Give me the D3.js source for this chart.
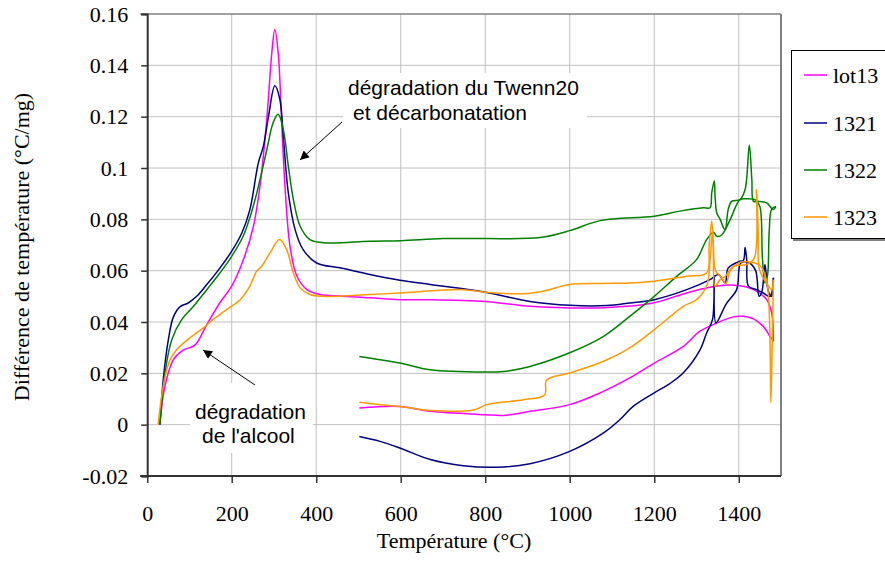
<!DOCTYPE html>
<html><head><meta charset="utf-8">
<script src="https://cdn.jsdelivr.net/npm/d3@7"></script>
<style>body{margin:0;background:#fff;} svg{display:block;}</style>
</head><body>
<svg id="chart" width="885" height="563"></svg>
<script>
// ---------- DATA ----------
const seriesNames = ["lot13", "1321", "1322", "1323"];
const seriesColors = ["#FF00FF", "#000080", "#008000", "#FF9900"];
const xTicks = [0, 200, 400, 600, 800, 1000, 1200, 1400];
const yTicks = [-0.02, 0, 0.02, 0.04, 0.06, 0.08, 0.1, 0.12, 0.14, 0.16];
const xTitle = "Température (°C)";
const yTitle = "Différence de température (°C/mg)";

// [température, différence] — montée
const lot13Heat = [[30,0],[42,0.015],[62,0.0253],[85,0.029],[113,0.031],[141,0.039],[172,0.0475],[200,0.054],[227,0.064],[251,0.077],[267,0.093],[283,0.119],[295,0.145],[302,0.154],[310,0.145],[318,0.119],[326,0.093],[338,0.0695],[354,0.058],[378,0.0526],[409,0.0507],[432,0.0503],[527,0.0494],[598,0.0487],[670,0.0487],[800,0.048],[906,0.0461],[1000,0.0455],[1072,0.0455],[1142,0.0462],[1200,0.0475],[1277,0.0513],[1348,0.054],[1399,0.0542],[1435,0.0526],[1466,0.0487],[1478,0.0435],[1482,0.0325]];
// descente
const lot13Cool = [[1482,0.0325],[1474,0.0344],[1458,0.0383],[1435,0.0412],[1411,0.0422],[1387,0.042],[1348,0.0396],[1308,0.0364],[1269,0.0305],[1200,0.024],[1142,0.0182],[1072,0.0124],[1000,0.0078],[906,0.0052],[843,0.0036],[800,0.0039],[670,0.0052],[598,0.0071],[502,0.0065]];

const s1321Heat = [[30,0],[38,0.0175],[50,0.033],[62,0.042],[78,0.046],[97,0.0474],[117,0.05],[141,0.0546],[172,0.061],[200,0.0676],[224,0.0747],[243,0.0838],[263,0.102],[275,0.1085],[287,0.12],[302,0.132],[314,0.1267],[322,0.1124],[334,0.0903],[350,0.076],[369,0.0682],[401,0.063],[456,0.0611],[527,0.0585],[598,0.0563],[670,0.0546],[800,0.0516],[906,0.048],[1000,0.0465],[1088,0.0464],[1142,0.0474],[1200,0.0487],[1277,0.0526],[1332,0.0565],[1352,0.0585],[1368,0.0552],[1375,0.061],[1403,0.0637],[1411,0.064],[1415,0.069],[1419,0.064],[1423,0.054],[1442,0.0526],[1458,0.0513],[1474,0.05],[1482,0.0572]];
const s1321Cool = [[1482,0.0572],[1478,0.05],[1470,0.052],[1462,0.0624],[1455,0.052],[1448,0.05],[1440,0.06],[1425,0.063],[1405,0.063],[1395,0.0526],[1370,0.047],[1346,0.0397],[1342,0.058],[1338,0.041],[1324,0.0357],[1308,0.029],[1269,0.0202],[1237,0.016],[1200,0.0124],[1150,0.0071],[1119,0.002],[1080,-0.0032],[1000,-0.0104],[906,-0.0152],[827,-0.0166],[748,-0.016],[670,-0.0136],[598,-0.0091],[551,-0.0065],[502,-0.0046]];

const s1322Heat = [[30,0],[42,0.02],[58,0.033],[82,0.041],[109,0.046],[141,0.0526],[172,0.0591],[200,0.0656],[227,0.0734],[251,0.0851],[267,0.0955],[283,0.107],[298,0.1176],[310,0.1209],[322,0.115],[334,0.1007],[346,0.0877],[362,0.0773],[385,0.0721],[425,0.0708],[527,0.0715],[600,0.0717],[700,0.0725],[800,0.0725],[930,0.0729],[1000,0.0756],[1072,0.0795],[1200,0.0812],[1261,0.0832],[1316,0.0845],[1332,0.0845],[1336,0.0903],[1342,0.0949],[1344,0.089],[1348,0.0825],[1356,0.08],[1364,0.0767],[1368,0.076],[1375,0.0838],[1383,0.087],[1403,0.0877],[1415,0.0916],[1425,0.109],[1431,0.0955],[1435,0.087],[1446,0.087],[1466,0.0864],[1482,0.0838],[1488,0.085]];
const s1322Cool = [[1488,0.085],[1478,0.084],[1472,0.075],[1468,0.058],[1462,0.0552],[1456,0.065],[1450,0.085],[1440,0.0875],[1420,0.088],[1403,0.0877],[1380,0.08],[1360,0.074],[1348,0.0734],[1340,0.075],[1324,0.0721],[1300,0.0643],[1253,0.0578],[1200,0.05],[1142,0.0422],[1080,0.0344],[1000,0.028],[906,0.0227],[843,0.0207],[800,0.0205],[670,0.0214],[598,0.024],[502,0.0266]];

const s1323Heat = [[26,0],[38,0.015],[54,0.0253],[74,0.03],[101,0.0338],[133,0.0377],[156,0.041],[188,0.0448],[220,0.0487],[243,0.054],[259,0.0598],[271,0.0617],[291,0.067],[313,0.0721],[330,0.0682],[346,0.0591],[362,0.0533],[385,0.0507],[417,0.05],[527,0.0507],[598,0.0513],[748,0.0526],[800,0.0516],[890,0.051],[937,0.052],[1000,0.0546],[1072,0.055],[1142,0.0552],[1200,0.0559],[1277,0.0578],[1324,0.0591],[1330,0.07],[1336,0.0793],[1340,0.07],[1344,0.054],[1356,0.0565],[1368,0.0578],[1387,0.0617],[1419,0.0624],[1437,0.065],[1442,0.0916],[1446,0.075],[1449,0.0604],[1466,0.0552],[1478,0.0526],[1482,0.0565]];
const s1323Cool = [[1482,0.0565],[1479,0.03],[1476,0.0085],[1473,0.04],[1466,0.056],[1450,0.062],[1420,0.0635],[1400,0.063],[1380,0.06],[1370,0.055],[1356,0.058],[1345,0.06],[1338,0.075],[1333,0.066],[1324,0.054],[1300,0.0487],[1269,0.0461],[1200,0.037],[1142,0.0299],[1080,0.0247],[1000,0.0201],[945,0.0173],[941,0.0117],[890,0.0097],[803,0.0078],[775,0.0058],[670,0.0055],[598,0.0071],[551,0.0078],[502,0.0087]];

const seriesData = [
  [lot13Heat, lot13Cool],
  [s1321Heat, s1321Cool],
  [s1322Heat, s1322Cool],
  [s1323Heat, s1323Cool]
];

// ---------- DRAW ----------
const svg = d3.select("#chart");
const L = 147.2, R = 781, T = 14, B = 476;
const x = d3.scaleLinear().domain([0, 1500]).range([L, R]);
const y = d3.scaleLinear().domain([-0.02, 0.16]).range([B, T]);
const serif = "'Liberation Serif','Times New Roman',serif";
const sans = "'Liberation Sans',Arial,sans-serif";

// gridlines
svg.append("g").selectAll("line").data(xTicks.filter(d => d > 0)).join("line")
  .attr("x1", d => x(d)).attr("x2", d => x(d)).attr("y1", T).attr("y2", B)
  .attr("stroke", "#c0c0c0").attr("stroke-width", 1);
svg.append("g").selectAll("line").data(yTicks.filter(d => d > -0.02 && d < 0.16)).join("line")
  .attr("x1", L).attr("x2", R).attr("y1", d => y(d)).attr("y2", d => y(d))
  .attr("stroke", "#c0c0c0").attr("stroke-width", 1);

// top & right border
svg.append("line").attr("x1", L - 7).attr("x2", R).attr("y1", T).attr("y2", T).attr("stroke", "#808080").attr("stroke-width", 1.5);
svg.append("line").attr("x1", R).attr("x2", R).attr("y1", T).attr("y2", B).attr("stroke", "#808080").attr("stroke-width", 2);

// data lines
const line = d3.line().x(d => x(d[0])).y(d => y(d[1])).curve(d3.curveCatmullRom.alpha(0.5));
const lg = svg.append("g");
seriesData.forEach((segs, i) => {
  segs.forEach(seg => {
    lg.append("path").attr("d", line(seg)).attr("fill", "none")
      .attr("stroke", seriesColors[i]).attr("stroke-width", 1.5).attr("stroke-linejoin", "round");
  });
});

// axes
const fmt = d => String(+d.toFixed(2));
const xAxis = svg.append("g").attr("transform", `translate(0,${B})`)
  .call(d3.axisBottom(x).tickValues(xTicks).tickSize(7).tickPadding(22).tickFormat(d3.format("d")));
const yAxis = svg.append("g").attr("transform", `translate(${L},0)`)
  .call(d3.axisLeft(y).tickValues(yTicks).tickSize(6).tickPadding(13).tickFormat(fmt));
[xAxis, yAxis].forEach(a => {
  a.select(".domain").attr("stroke", "#333").attr("stroke-width", 2);
  a.selectAll(".tick line").attr("stroke", "#333").attr("stroke-width", 1.5);
  a.selectAll("text").attr("font-family", serif).attr("font-size", 22).attr("fill", "#000");
});
xAxis.select(".domain").attr("d", `M${L - 7},0H${R}`);

// axis titles
svg.append("text").attr("x", 454).attr("y", 548).attr("text-anchor", "middle")
  .attr("font-family", serif).attr("font-size", 22).text(xTitle);
svg.append("text").attr("transform", "translate(29,247) rotate(-90)").attr("text-anchor", "middle")
  .attr("font-family", serif).attr("font-size", 22).text(yTitle);

// annotations
const defs = svg.append("defs");
defs.append("marker").attr("id", "arr").attr("viewBox", "0 0 10 10").attr("refX", 10).attr("refY", 5)
  .attr("markerWidth", 13).attr("markerHeight", 9).attr("markerUnits", "userSpaceOnUse").attr("orient", "auto")
  .append("path").attr("d", "M0,0L10,5L0,10Z").attr("fill", "#000");

svg.append("rect").attr("x", 343).attr("y", 73).attr("width", 244).attr("height", 55).attr("fill", "#fff");
svg.append("text").attr("x", 348).attr("y", 95).attr("font-family", sans).attr("font-size", 21).text("dégradation du Twenn20");
svg.append("text").attr("x", 353).attr("y", 120).attr("font-family", sans).attr("font-size", 21).text("et décarbonatation");
svg.append("line").attr("x1", 342).attr("y1", 122).attr("x2", 300).attr("y2", 160)
  .attr("stroke", "#000").attr("stroke-width", 1).attr("marker-end", "url(#arr)");

svg.append("rect").attr("x", 190).attr("y", 383).attr("width", 123).attr("height", 70).attr("fill", "#fff");
svg.append("text").attr("x", 195).attr("y", 419).attr("font-family", sans).attr("font-size", 21).text("dégradation");
svg.append("text").attr("x", 202).attr("y", 443).attr("font-family", sans).attr("font-size", 21).text("de l'alcool");
svg.append("line").attr("x1", 255).attr("y1", 385).attr("x2", 203).attr("y2", 350)
  .attr("stroke", "#000").attr("stroke-width", 1).attr("marker-end", "url(#arr)");

// legend
const leg = svg.append("g");
leg.append("rect").attr("x", 793).attr("y", 52).attr("width", 100).attr("height", 189).attr("fill", "#808080");
leg.append("rect").attr("x", 791.5).attr("y", 50.5).attr("width", 100).attr("height", 188).attr("fill", "#fff").attr("stroke", "#000").attr("stroke-width", 1);
const legY = [75, 123, 170, 217];
seriesNames.forEach((n, i) => {
  leg.append("line").attr("x1", 804).attr("x2", 827).attr("y1", legY[i]).attr("y2", legY[i])
    .attr("stroke", seriesColors[i]).attr("stroke-width", 1.5);
  leg.append("text").attr("x", 833).attr("y", legY[i] + 8).attr("font-family", serif).attr("font-size", 22).text(n);
});
</script>
</body></html>
